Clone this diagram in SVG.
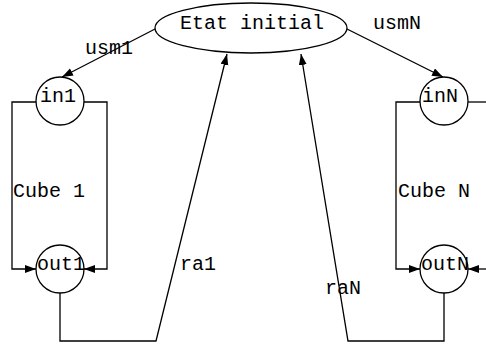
<svg xmlns="http://www.w3.org/2000/svg" width="486" height="345" viewBox="0 0 486 345">
<style>
.s{fill:none;stroke:#000;stroke-width:1.3}
.n{fill:#fff;stroke:#000;stroke-width:1.3}
text{font-family:"Liberation Mono","DejaVu Sans Mono",monospace;font-size:20px;fill:#000}
</style>
<defs>
<marker id="a" markerUnits="userSpaceOnUse" markerWidth="12" markerHeight="10" refX="11" refY="4" orient="auto">
<path d="M0,0 L11,4 L0,8 Z" fill="#000"/>
</marker>
</defs>
<rect width="486" height="345" fill="#fff"/>
<g id="connectors">
<path class="s" d="M155,29 L62,77" marker-end="url(#a)"/>
<path class="s" d="M347,29 L443,77" marker-end="url(#a)"/>
<path class="s" d="M36,102 L12,102 L12,269 L36,269" marker-end="url(#a)"/>
<path class="s" d="M84,102 L107,102 L107,269 L84,269" marker-end="url(#a)"/>
<path class="s" d="M420,102 L396,102 L396,269 L420,269" marker-end="url(#a)"/>
<path class="s" d="M468,102 L490,102"/>
<path class="s" d="M490,269 L468,269" marker-end="url(#a)"/>
<path class="s" d="M60,293 L60,341 L156,341 L227,54" marker-end="url(#a)"/>
<path class="s" d="M444,293 L444,341 L348,341 L301,54" marker-end="url(#a)"/>
<text x="85" y="54">usm1</text>
<text x="373" y="29">usmN</text>
<text x="180" y="270">ra1</text>
<text x="325" y="294">raN</text>
</g>
<g id="etat">
<ellipse class="n" cx="251" cy="28" rx="96" ry="25"/>
<text x="180" y="29">Etat initial</text>
</g>
<g id="cube1">
<text x="13" y="197">Cube 1</text>
</g>
<g id="cubeN">
<text x="398" y="197">Cube N</text>
</g>
<g id="in1">
<circle class="n" cx="60" cy="101" r="24"/>
<text x="40" y="102">in1</text>
</g>
<g id="out1">
<circle class="n" cx="60" cy="269" r="24"/>
<text x="37" y="270">out1</text>
</g>
<g id="inN">
<circle class="n" cx="444" cy="101" r="24"/>
<text x="422" y="102">inN</text>
</g>
<g id="outN">
<circle class="n" cx="444" cy="269" r="24"/>
<text x="421" y="270">outN</text>
</g>
</svg>
